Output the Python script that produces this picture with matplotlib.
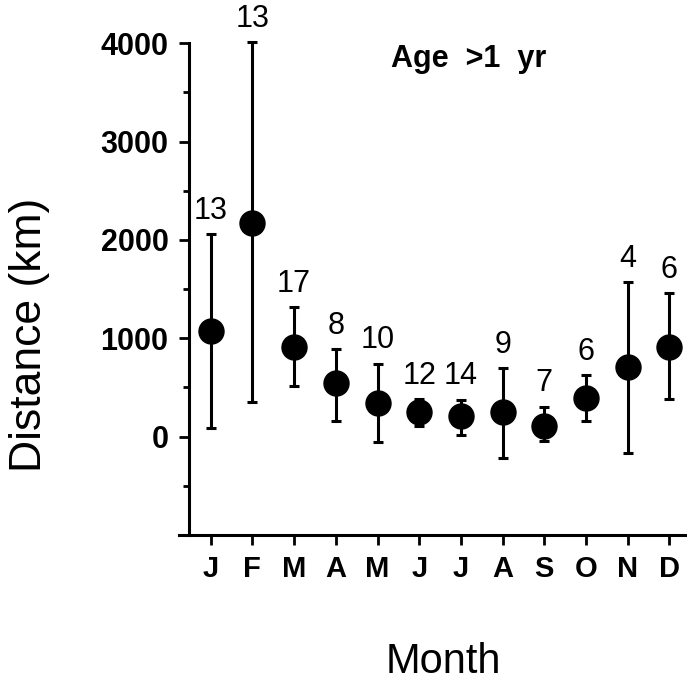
import matplotlib
matplotlib.use("Agg")
import matplotlib.pyplot as plt
import numpy as np

plt.rcParams['font.family'] = ['Liberation Sans', 'DejaVu Sans']

months = ['J', 'F', 'M', 'A', 'M', 'J', 'J', 'A', 'S', 'O', 'N', 'D']
mean_km = [1078, 2176, 915, 543, 346, 248, 210, 254, 109, 397, 705, 915]
upper_km = [2058, 4010, 1316, 892, 742, 384, 376, 695, 305, 624, 1570, 1458]
lower_km = [85, 350, 515, 160, -57, 112, 17, -220, -44, 160, -166, 380]
n_obs = [13, 13, 17, 8, 10, 12, 14, 9, 7, 6, 4, 6]
yticks = [0, 1000, 2000, 3000, 4000]

fig = plt.figure(figsize=(6.87, 6.81), dpi=100)
ax = fig.add_axes([179/687, 146/681, (687-179)/687, (535-43.3)/681])

x = np.arange(1, len(months) + 1)
mean = np.array(mean_km)
yerr = [mean - np.array(lower_km), np.array(upper_km) - mean]
ax.errorbar(x, mean, yerr=yerr, fmt='o', ms=18, color='black', ecolor='black',
            elinewidth=2.2, capsize=3.5, capthick=2.2, clip_on=False, zorder=3)

for xi, hi, n in zip(x, upper_km, n_obs):
    ax.annotate(str(n), (xi, hi), xytext=(0, 6), textcoords='offset points',
                ha='center', va='bottom', fontsize=22, annotation_clip=False)

ax.set_xlim(0.24, 12.42)
ax.set_ylim(-1000, 4000)
ax.spines['top'].set_visible(False)
ax.spines['right'].set_visible(False)
ax.spines['left'].set_position(('data', 0.487))
ax.spines['left'].set_bounds(-1000, 4000)
for s in ['left', 'bottom']:
    ax.spines[s].set_linewidth(2.2)

ax.set_yticks(yticks)
ax.set_yticklabels([str(v) for v in yticks], fontweight='bold', fontsize=22)
ax.set_yticks(np.arange(-500, 4000, 1000), minor=True)
ax.set_xticks(x)
ax.set_xticklabels(months, fontweight='bold', fontsize=21)
ax.tick_params(axis='y', which='major', length=7, width=2, pad=8)
ax.tick_params(axis='y', which='minor', length=4, width=2)
ax.tick_params(axis='x', which='major', length=7.5, width=2, pad=7)

fig.text(469/687, 1 - 66.7/681, 'Age  >1  yr', ha='center', va='baseline',
         fontsize=22, fontweight='bold')

fig.text(30/687, 1 - 335/681, 'Distance (km)', rotation=90, ha='center', va='center', fontsize=32)
fig.text(443/687, 1 - 662/681, 'Month', ha='center', va='center', fontsize=30)

fig.savefig('out.png', dpi=100)
